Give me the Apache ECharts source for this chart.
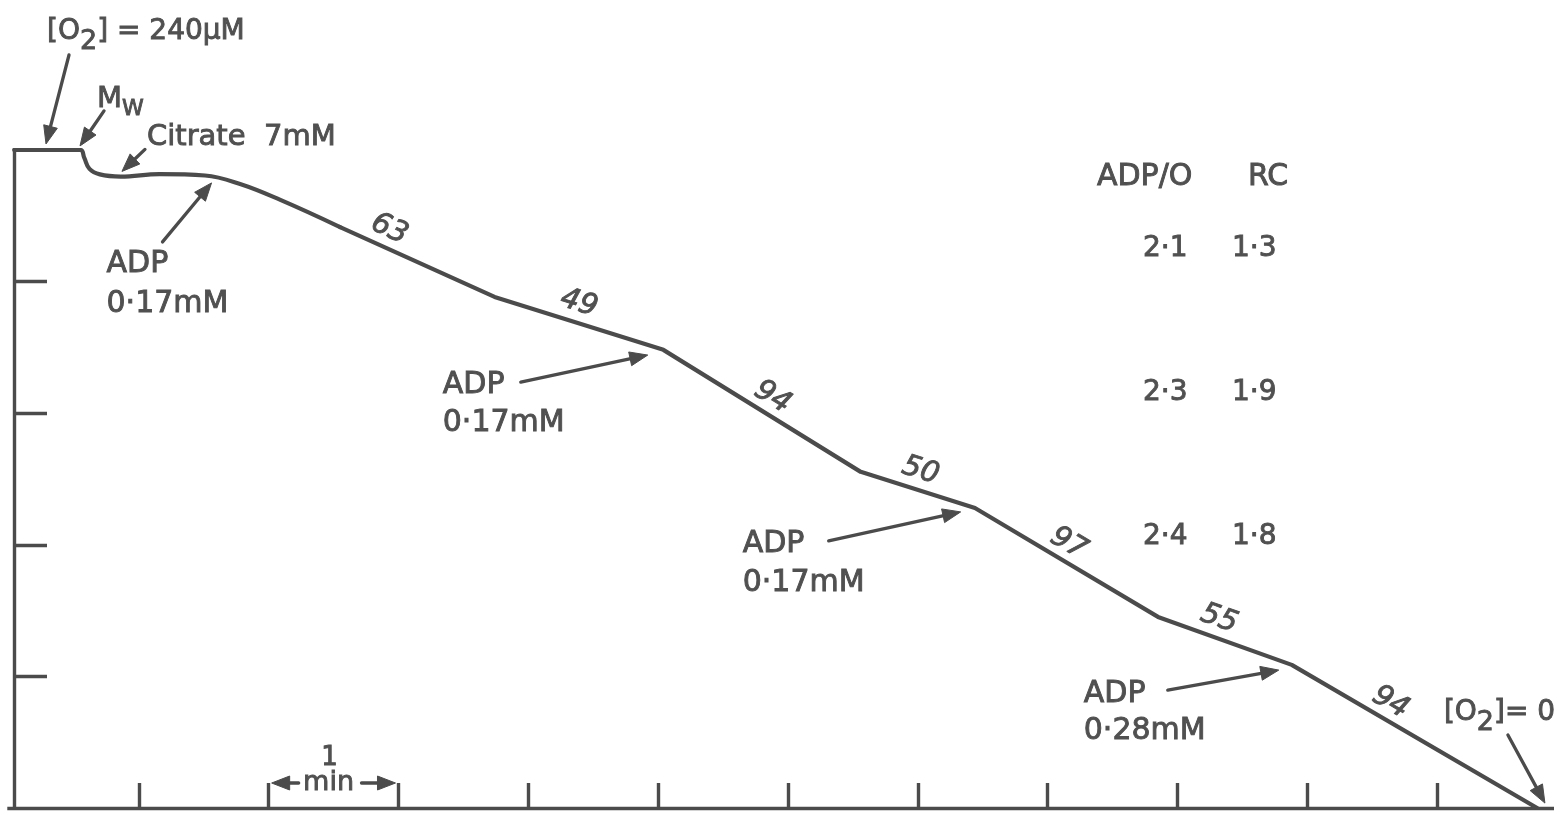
<!DOCTYPE html>
<html>
<head>
<meta charset="utf-8">
<script src="https://cdn.jsdelivr.net/npm/echarts@6/dist/echarts.min.js"></script>
<style>
  html, body { margin: 0; padding: 0; background: #ffffff; }
  #chart { width: 1554px; height: 821px; }
</style>
</head>
<body>
<div id="chart"></div>
<script>
// Oxygen electrode trace: mitochondria oxidising citrate, with successive ADP pulses.
// x = time (min), y = dissolved O2 (µM).

// Opening shoulder: mitochondria (Mw) and citrate added, drawn as a smooth curve
const curveTime = [0.04, 0.55, 0.58, 0.62, 0.70, 0.86, 1.16, 1.51, 1.78, 2.09, 2.55];
const curveO2   = [240, 240, 237.1, 233.1, 231.1, 230.3, 231.2, 230.7, 227.6, 221.8, 211.9];

// Straight respiration phases, knee to knee
const kneeTime = [2.55, 3.74, 5.04, 6.56, 7.44, 8.85, 9.88, 11.77];
const kneeO2   = [211.9, 186.4, 167.1, 122.6, 109.4, 69.7, 52.2, 0];

// Respiration rates written along each phase and the time at which each is written
const rates    = ['63', '49', '94', '50', '97', '55', '94'];
const rateTime = [2.93, 4.39, 5.88, 7.02, 8.16, 9.32, 10.64];

// ADP additions: arrow tip (time, O2) and dose
const adpTime  = [1.56, 4.92, 7.33, 9.78];
const adpTipO2 = [228.0, 165.2, 108.0, 50.3];
const adpDose  = ['0·17mM', '0·17mM', '0·17mM', '0·28mM'];

// Other additions / markers: arrow tip (time, O2)
const startTip   = [0.285, 242.2];   // [O2] = 240 µM
const mitoTip    = [0.547, 241.5];   // Mw
const citrateTip = [0.87, 232.2];    // citrate 7 mM
const anoxiaTip  = [11.83, 1.8];     // [O2] = 0

// ADP/O and respiratory control ratios
const adpO = ['2·1', '2·3', '2·4'];
const rc   = ['1·3', '1·9', '1·8'];

// Axis ticks
const tickTimes = [1, 2, 3, 4, 5, 6, 7, 8, 9, 10, 11];
const o2Ticks   = [48, 96, 144, 192];

const INK  = '#4b4b4b';
const TEXT = '#505050';
const FAMILY = '"DejaVu Sans", "Liberation Sans", sans-serif';

const chart = echarts.init(document.getElementById('chart'), null, { renderer: 'canvas' });

const axisLineStyle = { color: INK, width: 3.4, cap: 'square' };
const traceStyle = { color: INK, width: 4.2, cap: 'round', join: 'round' };

chart.setOption({
  backgroundColor: '#ffffff',
  animation: false,
  grid: { left: 9, right: 0, top: 150, bottom: 13 },
  xAxis: {
    type: 'value', min: 0, max: 11.9,
    axisLine: { show: true, onZero: false, lineStyle: axisLineStyle },
    axisTick: { show: true, inside: true, length: 25, customValues: tickTimes, lineStyle: { color: INK, width: 3.4 } },
    axisLabel: { show: false },
    splitLine: { show: false }
  },
  yAxis: {
    type: 'value', min: 0, max: 240, offset: -5,
    axisLine: { show: true, onZero: false, lineStyle: axisLineStyle },
    axisTick: { show: true, inside: true, length: 33, customValues: o2Ticks, lineStyle: { color: INK, width: 3.4 } },
    axisLabel: { show: false },
    splitLine: { show: false }
  },
  series: [
    {
      name: 'shoulder', type: 'line', smooth: 0.4,
      showSymbol: false, silent: true,
      data: curveTime.map((t, i) => [t, curveO2[i]]),
      lineStyle: traceStyle
    },
    {
      name: 'phases', type: 'line', smooth: false,
      showSymbol: false, silent: true,
      data: kneeTime.map((t, i) => [t, kneeO2[i]]),
      lineStyle: traceStyle
    }
  ]
});

const px = (t, o) => chart.convertToPixel({ seriesIndex: 1 }, [t, o]);

function arrow(x1, y1, x2, y2) {
  const dx = x2 - x1, dy = y2 - y1, L = Math.hypot(dx, dy);
  const ux = dx / L, uy = dy / L;
  const head = 18, half = 7;
  const bx = x2 - ux * head, by = y2 - uy * head;
  return [
    { type: 'line', silent: true,
      shape: { x1: x1, y1: y1, x2: bx + ux * 3, y2: by + uy * 3 },
      style: { stroke: INK, lineWidth: 3.3, lineCap: 'round' } },
    { type: 'polygon', silent: true,
      shape: { points: [[x2, y2], [bx - uy * half, by + ux * half], [bx + uy * half, by - ux * half]] },
      style: { fill: INK, stroke: INK, lineWidth: 1, lineJoin: 'round' } }
  ];
}

function text(x, y, str, size, extra) {
  return {
    type: 'text', silent: true, x: x, y: y,
    style: Object.assign({
      text: str, fill: TEXT, stroke: TEXT, lineWidth: 0.9,
      fontSize: size, fontFamily: FAMILY,
      textAlign: 'left', textVerticalAlign: 'middle', align: 'left', verticalAlign: 'middle'
    }, extra || {})
  };
}

const sub = (size, drop) => ({
  s: { fontSize: size, fontFamily: FAMILY, fill: TEXT, stroke: TEXT, lineWidth: 0.9, padding: [drop, 0, 0, 0] }
});

const g = [];

// [O2] = 240 µM
{
  const tip = px(startTip[0], startTip[1]);
  g.push(...arrow(tip[0] + 23, tip[1] - 89, tip[0], tip[1]));
  g.push(text(tip[0] + 1, tip[1] - 112, '[O{s|2}] = 240µM', 28, { rich: sub(27, 20) }));
}
// Mw
{
  const tip = px(mitoTip[0], mitoTip[1]);
  g.push(...arrow(tip[0] + 24, tip[1] - 35, tip[0], tip[1]));
  g.push(text(tip[0] + 17, tip[1] - 46, 'M{s|W}', 29, { rich: sub(22, 18) }));
}
// Citrate
{
  const tip = px(citrateTip[0], citrateTip[1]);
  g.push(...arrow(tip[0] + 23, tip[1] - 22, tip[0], tip[1]));
  g.push(text(tip[0] + 25, tip[1] - 34, 'Citrate  7mM', 29));
}
// ADP pulses
const adpLayout = [
  { tail: [-49, 59],  left: -105, l1: 81, l2: 121 },
  { tail: [-127, 27], left: -205, l1: 30, l2: 68 },
  { tail: [-132, 29], left: -218, l1: 32, l2: 71 },
  { tail: [-111, 20], left: -195, l1: 24, l2: 61 }
];
adpTime.forEach((t, i) => {
  const tip = px(t, adpTipO2[i]);
  const L = adpLayout[i];
  g.push(...arrow(tip[0] + L.tail[0], tip[1] + L.tail[1], tip[0], tip[1]));
  g.push(text(tip[0] + L.left, tip[1] + L.l1, 'ADP', 30));
  g.push(text(tip[0] + L.left, tip[1] + L.l2, adpDose[i], 30));
});
// [O2] = 0
{
  const tip = px(anoxiaTip[0], anoxiaTip[1]);
  g.push(...arrow(tip[0] - 37, tip[1] - 68, tip[0], tip[1]));
  g.push(text(tip[0] - 101, tip[1] - 90, '[O{s|2}]= 0', 28, { rich: sub(27, 20) }));
}

// Rates written above each straight phase, turned to follow its slope
rateTime.forEach((t, k) => {
  let i = 0;
  while (i < kneeTime.length - 2 && t > kneeTime[i + 1]) i++;
  const f = (t - kneeTime[i]) / (kneeTime[i + 1] - kneeTime[i]);
  const o = kneeO2[i] + f * (kneeO2[i + 1] - kneeO2[i]);
  const p = px(t, o);
  const a = px(kneeTime[i], kneeO2[i]);
  const b = px(kneeTime[i + 1], kneeO2[i + 1]);
  const ang = Math.atan2(b[1] - a[1], b[0] - a[0]);
  g.push({
    type: 'text', silent: true,
    x: p[0], y: p[1] - 20,
    rotation: -ang,
    style: {
      text: rates[k], fill: TEXT, stroke: TEXT, lineWidth: 0.9,
      fontSize: 29, fontFamily: FAMILY, fontStyle: 'italic',
      textAlign: 'center', textVerticalAlign: 'middle', align: 'center', verticalAlign: 'middle'
    }
  });
});

// 1 min scale bar between the 2nd and 3rd time ticks
{
  const a = px(tickTimes[1], 0), b = px(tickTimes[2], 0);
  const mid = (a[0] + b[0]) / 2;
  const yBar = a[1] - 25;
  g.push(text(mid - 4, a[1] - 50, '1', 26, { textAlign: 'center', align: 'center' }));
  g.push(text(mid - 5, yBar, 'min', 27, { textAlign: 'center', align: 'center' }));
  g.push(...arrow(a[0] + 30, yBar, a[0] + 3, yBar));
  g.push(...arrow(b[0] - 37, yBar, b[0] - 3, yBar));
}

// ADP/O and RC table
g.push(text(1097, 177, 'ADP/O', 30));
g.push(text(1248, 177, 'RC', 30));
const rowY = [249, 393, 537];
rowY.forEach((y, i) => {
  g.push(text(1143, y, adpO[i], 28));
  g.push(text(1232, y, rc[i], 28));
});

chart.setOption({ graphic: { elements: g } });
</script>
</body>
</html>
